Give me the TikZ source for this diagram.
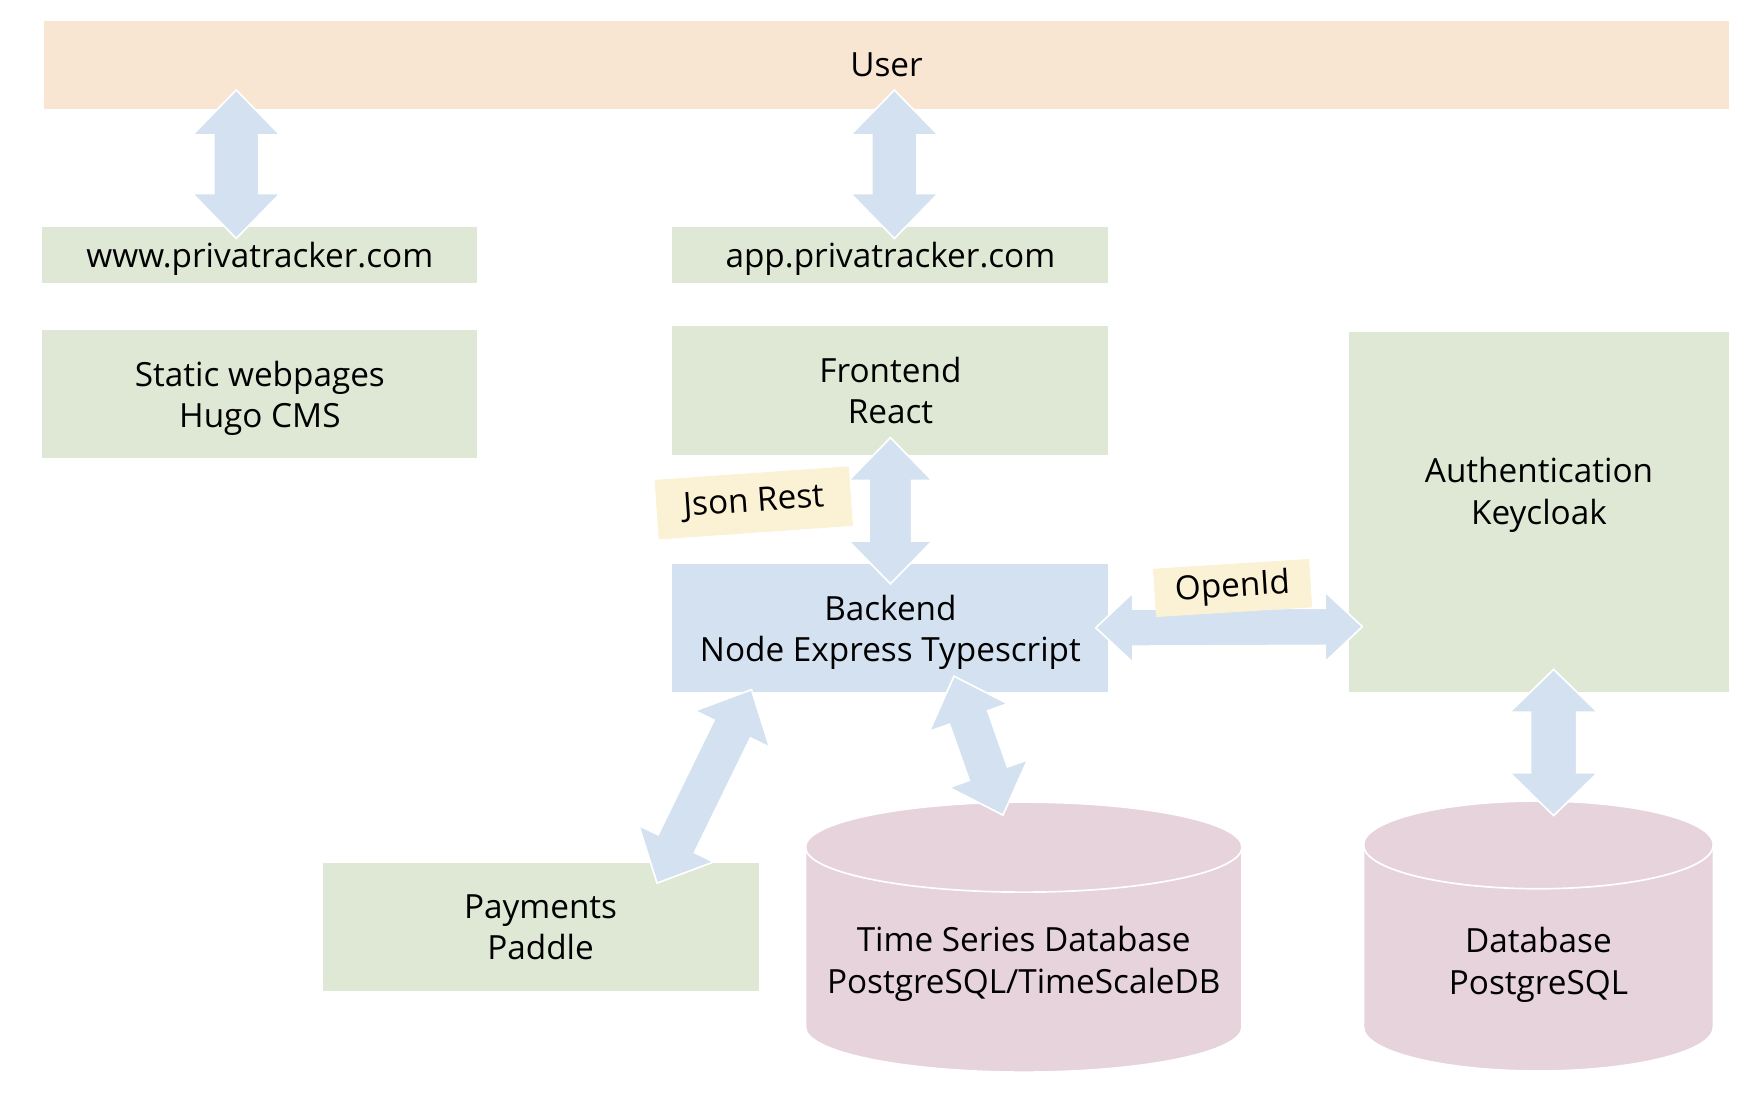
\documentclass[tikz,border=0pt]{standalone}
\usepackage{fontspec}
\setmainfont{Open Sans}
\definecolor{peach}{HTML}{F8E5D2}
\definecolor{boxgreen}{HTML}{DEE8D5}
\definecolor{boxblue}{HTML}{D4E1F0}
\definecolor{arrowblue}{HTML}{D4E1F0}
\definecolor{dbpink}{HTML}{E6D3DC}
\definecolor{tagyellow}{HTML}{FBF1D4}
\newcommand\fatarrow[5]{% from, to, shaft half width, head half width, head length
  \pgfpointdiff{\pgfpointanchor{#1}{center}}{\pgfpointanchor{#2}{center}}%
  \pgfgetlastxy{\fadx}{\fady}%
  \pgfmathsetmacro\faang{atan2(\fady,\fadx)}%
  \pgfmathsetmacro\falen{veclen(\fadx,\fady)}%
  \begin{scope}[shift={(#1)},rotate=\faang]
    \filldraw[fatarrow] (0,0) -- (#5,#4) -- (#5,#3) -- (\falen-#5,#3) -- (\falen-#5,#4)
      -- (\falen,0) -- (\falen-#5,-#4) -- (\falen-#5,-#3) -- (#5,-#3) -- (#5,-#4) -- cycle;
  \end{scope}}
\tikzset{
  txt/.style={font=\fontsize{29.6pt}{37pt}\selectfont, align=center, text=black},
  box/.style={txt, rectangle, draw=white, line width=1.5pt, inner sep=0pt, text depth=0pt},
  greenbox/.style={box, fill=boxgreen},
  tag/.style={txt, rectangle, fill=tagyellow, inner sep=0pt},
  fatarrow/.style={fill=arrowblue, draw=white, line width=1.5pt, line join=miter},
  dbbody/.style={fill=dbpink, draw=white, line width=1.5pt},
}
\begin{document}
\begin{tikzpicture}[x=1pt,y=-1pt]
\useasboundingbox[fill=white] (0,0) rectangle (1568,988);
% boxes
\node[box, fill=peach, minimum width=1500pt, minimum height=80pt] (user) at (788,57.5) {User};
\node[greenbox, minimum width=388pt, minimum height=51pt] (www) at (231,226.5) {www.privatracker.com};
\node[greenbox, minimum width=389pt, minimum height=51pt] (app) at (791.5,226.5) {app.privatracker.com};
\node[greenbox, minimum width=388pt, minimum height=115pt] (static) at (231,350.5) {Static webpages\\Hugo CMS};
\node[greenbox, minimum width=389pt, minimum height=116pt] (frontend) at (791.5,347) {Frontend\\React};
\node[greenbox, minimum width=340pt, minimum height=322pt] (auth) at (1368,455) {Authentication\\Keycloak\\\mbox{}};
\node[box, fill=boxblue, minimum width=389pt, minimum height=115pt] (backend) at (791.5,558.5) {Backend\\Node Express Typescript};
\node[greenbox, minimum width=389pt, minimum height=116pt] (payments) at (480.5,824) {Payments\\Paddle};
% cylinders
\filldraw[dbbody] (716,753) -- (716,913) arc (180:0:194 and 40) -- (1104,753) arc (0:-180:194 and 40) -- cycle;
\draw[white, line width=1.5pt] (716,753) arc (180:0:194 and 40);
\node[txt, inner sep=0pt, text depth=0pt] (tsdb) at (910,853) {Time Series Database\\PostgreSQL/TimeScaleDB};
\filldraw[dbbody] (1212,751) -- (1212,913) arc (180:0:155.5 and 39) -- (1523,751) arc (0:-180:155.5 and 39) -- cycle;
\draw[white, line width=1.5pt] (1212,751) arc (180:0:155.5 and 39);
\node[txt, inner sep=0pt, text depth=0pt] (db) at (1367.5,854) {Database\\PostgreSQL};
% arrow end points
\coordinate (a1s) at (210,80);    \coordinate (a1e) at (210,212);
\coordinate (a2s) at (795,80);    \coordinate (a2e) at (795,212);
\coordinate (a3s) at (791.5,389); \coordinate (a3e) at (791.5,519);
\coordinate (a4s) at (974,558);   \coordinate (a4e) at (1211,557);
\coordinate (a5s) at (1381,595);  \coordinate (a5e) at (1381,725);
\coordinate (a6s) at (668,613);   \coordinate (a6e) at (584,785);
\coordinate (a7s) at (848,601);   \coordinate (a7e) at (891.5,724.5);
\fatarrow{a1s}{a1e}{20}{39}{40}
\fatarrow{a2s}{a2e}{20}{39}{40}
\fatarrow{a3s}{a3e}{19}{37}{38}
\fatarrow{a4s}{a4e}{16.5}{31}{33}
\fatarrow{a5s}{a5e}{20.5}{39}{38}
\fatarrow{a6s}{a6e}{18}{37}{39}
\fatarrow{a7s}{a7e}{18}{37}{39}
% labels
\node[tag, rotate=4, minimum width=173pt, minimum height=53pt] (json) at (670,447) {Json Rest};
\node[tag, rotate=3.6, minimum width=139pt, minimum height=43pt] (openid) at (1095.6,522.7) {OpenId};
\end{tikzpicture}
\end{document}
